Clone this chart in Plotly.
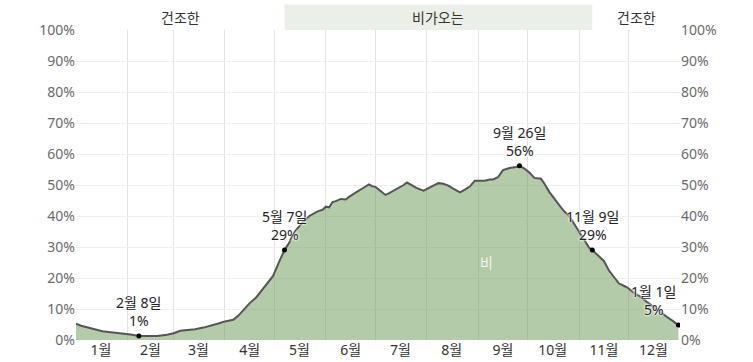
import plotly.graph_objects as go

# ---- data ----
days = [0, 3, 6, 10, 16, 21, 27, 33, 38, 44, 49, 55, 59, 63, 68, 72, 77, 81, 86, 90,
        95, 98, 101, 105, 109, 113, 116, 119, 123, 126, 129, 131, 133, 136, 138, 141,
        144, 146, 149, 151, 153, 155, 157, 160, 163, 165, 168, 171, 174, 177, 179, 181,
        184, 187, 189, 192, 195, 198, 200, 203, 206, 210, 213, 216, 219, 222, 225, 228,
        232, 235, 238, 241, 244, 247, 250, 252, 255, 258, 262, 266, 268, 271, 274, 277,
        281, 283, 286, 289, 292, 295, 298, 301, 304, 307, 310, 312, 314, 316, 319, 322,
        325, 328, 331, 333, 337, 341, 345, 349, 353, 357, 361, 364]
rain_pct = [5.3, 4.6, 4.2, 3.6, 2.8, 2.5, 2.2, 1.8, 1.3, 1.2, 1.3, 1.7, 2.2, 3.0, 3.2, 3.5,
            4.0, 4.5, 5.3, 6.0, 6.5, 7.8, 9.7, 11.9, 13.8, 16.5, 18.5, 20.6, 25.5, 29.0,
            31.5, 34.0, 35.5, 37.5, 38.5, 40.0, 41.0, 41.5, 42.0, 43.0, 42.8, 44.5, 44.8,
            45.5, 45.3, 46.2, 47.2, 48.3, 49.2, 50.2, 49.6, 49.4, 48.0, 46.8, 47.3, 48.2,
            49.0, 50.0, 50.8, 49.8, 49.0, 48.2, 49.0, 50.0, 50.6, 50.4, 49.8, 48.8, 47.6,
            48.5, 49.5, 51.4, 51.5, 51.4, 51.8, 51.8, 52.5, 54.8, 55.5, 55.8, 56.2, 55.3,
            54.0, 52.3, 52.0, 50.5, 47.8, 45.5, 43.5, 41.5, 40.0, 37.5, 34.8, 32.3, 29.8,
            29.0, 28.0, 27.2, 25.5, 22.5, 20.5, 18.3, 17.5, 17.0, 15.3, 14.0, 12.3, 10.6,
            9.0, 7.5, 6.0, 4.8]

month_labels = ["1월", "2월", "3월", "4월", "5월", "6월", "7월", "8월", "9월", "10월", "11월", "12월"]
month_mid_days = [15, 45, 74, 105, 135, 166, 196, 227, 258, 288, 319, 349]
month_start_days = [31, 59, 90, 120, 151, 181, 212, 243, 273, 304, 334]
y_ticks = list(range(0, 101, 10))
y_tick_text = [f"{v}%" for v in y_ticks]

highlight_days = [38, 126, 268, 312, 364]
highlight_pct = [1.3, 29.0, 56.2, 29.0, 4.8]
highlight_text = ["2월 8일<br>1%", "5월 7일<br>29%", "9월 26일<br>56%", "11월 9일<br>29%", "1월 1일<br>5%"]
highlight_anchor = ["center", "center", "center", "center", "right"]

season_names = ["건조한", "비가오는", "건조한"]
season_bounds = [0, 126, 312, 365]
season_wet = [False, True, False]

area_label = "비"
area_label_day = 248
area_label_pct = 25

FONT = "Noto Sans, Noto Sans CJK KR, sans-serif"

fig = go.Figure()
fig.add_trace(go.Scatter(
    x=days, y=rain_pct, mode="lines", fill="tozeroy",
    fillcolor="rgba(105,151,85,0.5)",
    line=dict(color="#555555", width=2), hoverinfo="skip", showlegend=False))
fig.add_trace(go.Scatter(
    x=days, y=rain_pct, yaxis="y2", mode="lines", line=dict(width=0),
    hoverinfo="skip", showlegend=False, opacity=0))
fig.add_trace(go.Scatter(
    x=highlight_days, y=highlight_pct, mode="markers",
    marker=dict(color="black", size=5), hoverinfo="skip", showlegend=False))

# annotations for highlighted points
for d, p, t, a in zip(highlight_days, highlight_pct, highlight_text, highlight_anchor):
    fig.add_annotation(x=d, y=p, text=t, showarrow=False, xanchor=a, yanchor="bottom",
                       yshift=4, align="center",
                       font=dict(family=FONT, size=14, color="#222222",
                                 shadow="0px 0px 2px white, 0px 0px 2px white, 0px 0px 3px white"))

fig.add_annotation(x=area_label_day, y=area_label_pct, text=area_label, showarrow=False,
                   font=dict(family=FONT, size=14, color="rgba(255,255,255,0.85)"))

# season band on top
for i, name in enumerate(season_names):
    x0, x1 = season_bounds[i], season_bounds[i + 1]
    if season_wet[i]:
        fig.add_shape(type="rect", xref="x", yref="paper", x0=x0, x1=x1, y0=1.0, y1=1.082,
                      fillcolor="#eaf0e7", line=dict(width=0), layer="below")
    fig.add_annotation(x=(x0 + x1) / 2, y=1.041, xref="x", yref="paper", text=name,
                       showarrow=False, yanchor="middle",
                       font=dict(family=FONT, size=14, color="#333333"))

fig.update_layout(
    width=753, height=362,
    margin=dict(l=76, r=73, t=30, b=22, autoexpand=False),
    paper_bgcolor="white", plot_bgcolor="white",
    font=dict(family=FONT, size=14, color="#666666"),
    xaxis=dict(range=[0, 365], tickmode="array", tickvals=month_mid_days,
               ticktext=month_labels, showgrid=False, zeroline=False, showline=False,
               ticks="", automargin=False, tickfont=dict(color="#333333", size=14),
               minor=dict(tickmode="array", tickvals=month_start_days, showgrid=True,
                          gridcolor="#e3e3e3", gridwidth=1, ticks="")),
    yaxis=dict(range=[0, 100], tickmode="array", tickvals=y_ticks, ticktext=y_tick_text,
               showgrid=True, gridcolor="#efefef", gridwidth=1, zeroline=False,
               showline=False, ticks="", automargin=False,
               tickfont=dict(color="#6a6a6a", size=14)),
    yaxis2=dict(range=[0, 100], overlaying="y", side="right", tickmode="array",
                tickvals=y_ticks, ticktext=y_tick_text, showgrid=False, zeroline=False,
                showline=False, ticks="", automargin=False,
                tickfont=dict(color="#6a6a6a", size=14)),
)

fig.write_html("out.html", config={"displayModeBar": False},
               post_script="document.body.style.margin='0px';")
